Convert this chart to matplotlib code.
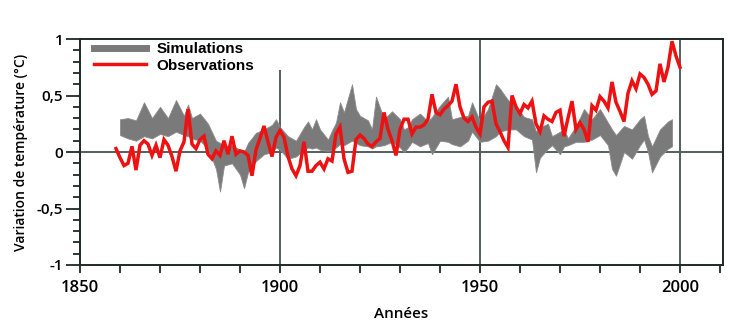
import matplotlib
matplotlib.use("Agg")
import matplotlib.pyplot as plt
from matplotlib.lines import Line2D
import numpy as np

# ---------------- data ----------------
obs_years = list(range(1859, 2001))
obs_values = [
    0.03, -0.05, -0.12, -0.10, 0.05, -0.16, 0.06, 0.10, 0.07, -0.03,   # 1859-1868
    0.06, -0.05, 0.11, 0.06, -0.04, -0.17, 0.01, 0.09, 0.38, 0.07,     # 1869-1878
    0.03, 0.11, 0.14, -0.02, -0.06, 0.01, -0.03, 0.10, -0.02, 0.14,    # 1879-1888
    -0.02, 0.01, 0.00, -0.03, -0.21, 0.02, 0.12, 0.23, 0.09, -0.04,    # 1889-1898
    0.13, 0.19, 0.13, -0.04, -0.15, -0.21, -0.12, 0.09, -0.17, -0.17,  # 1899-1908
    -0.12, -0.09, -0.15, -0.06, -0.08, 0.16, 0.22, -0.06, -0.18, -0.17,# 1909-1918
    0.11, 0.15, 0.12, 0.07, 0.05, 0.09, 0.12, 0.35, 0.20, 0.10,        # 1919-1928
    -0.03, 0.20, 0.29, 0.29, 0.16, 0.22, 0.22, 0.24, 0.29, 0.51,       # 1929-1938
    0.35, 0.33, 0.38, 0.41, 0.45, 0.60, 0.40, 0.30, 0.27, 0.31,        # 1939-1948
    0.22, 0.16, 0.40, 0.44, 0.45, 0.25, 0.18, 0.10, 0.04, 0.50,        # 1949-1958
    0.40, 0.34, 0.42, 0.39, 0.45, 0.25, 0.18, 0.32, 0.29, 0.27,        # 1959-1968
    0.35, 0.37, 0.14, 0.30, 0.45, 0.20, 0.26, 0.20, 0.09, 0.41,        # 1969-1978
    0.37, 0.49, 0.45, 0.39, 0.62, 0.44, 0.36, 0.27, 0.52, 0.63,        # 1979-1988
    0.56, 0.69, 0.66, 0.60, 0.51, 0.54, 0.78, 0.62, 0.75, 0.98,        # 1989-1998
    0.85, 0.75,                                                         # 1999-2000
]

sim_years = [1860, 1862, 1864, 1866, 1868, 1870, 1872, 1874, 1876, 1877, 1878,
             1880, 1882, 1884, 1885, 1886, 1888, 1890, 1891, 1892, 1894, 1896,
             1898, 1899, 1900, 1902, 1904, 1906, 1907, 1908, 1909, 1910, 1912,
             1913, 1914, 1915, 1916, 1918, 1919, 1920, 1922, 1923, 1924, 1926,
             1928, 1930, 1931, 1932, 1933, 1935, 1937, 1938, 1940, 1942, 1943,
             1945, 1947, 1948, 1950, 1952, 1954, 1955, 1957, 1959, 1961, 1963,
             1964, 1965, 1967, 1968, 1970, 1971, 1972, 1974, 1976, 1978, 1980,
             1982, 1983, 1984, 1986, 1988, 1990, 1991, 1992, 1993, 1995, 1997,
             1998]
sim_upper = [0.29, 0.30, 0.28, 0.44, 0.30, 0.40, 0.30, 0.46, 0.32, 0.42, 0.30,
             0.34, 0.25, 0.10, 0.08, 0.05, 0.06, 0.02, 0.00, 0.08, 0.17, 0.20,
             0.24, 0.29, 0.22, 0.14, 0.10, 0.22, 0.27, 0.20, 0.29, 0.20, 0.11,
             0.19, 0.26, 0.44, 0.35, 0.60, 0.38, 0.32, 0.28, 0.20, 0.49, 0.29,
             0.36, 0.29, 0.20, 0.22, 0.29, 0.34, 0.27, 0.31, 0.41, 0.49, 0.29,
             0.31, 0.32, 0.44, 0.27, 0.38, 0.60, 0.56, 0.46, 0.41, 0.31, 0.29,
             0.18, 0.22, 0.25, 0.14, 0.18, 0.20, 0.12, 0.23, 0.38, 0.29, 0.38,
             0.26, 0.20, 0.15, 0.23, 0.20, 0.29, 0.32, 0.14, 0.05, 0.20, 0.27,
             0.29]
sim_lower = [0.15, 0.12, 0.10, 0.14, 0.12, 0.16, 0.14, 0.18, 0.15, 0.14, 0.12,
             0.10, 0.03, -0.15, -0.35, -0.12, -0.10, -0.20, -0.32, -0.18, -0.08, -0.02,
             0.00, 0.04, 0.02, -0.06, -0.04, 0.02, 0.04, 0.03, 0.04, 0.02, 0.01,
             0.02, 0.04, 0.07, 0.06, 0.10, 0.08, 0.06, 0.05, 0.03, 0.05, 0.06,
             0.09, 0.04, 0.00, 0.04, 0.09, 0.05, 0.08, -0.02, 0.10, 0.09, 0.07,
             0.05, 0.10, 0.18, 0.09, 0.10, 0.14, 0.18, 0.20, 0.20, 0.14, 0.11,
             -0.18, -0.05, 0.03, 0.06, -0.02, 0.05, 0.06, 0.09, 0.09, 0.11, 0.15,
             0.06, -0.15, -0.21, 0.00, -0.06, 0.06, 0.11, 0.00, -0.18, -0.04, 0.03,
             0.05]

x_tick_labels = ["1850", "1900", "1950", "2000"]
x_label_years = [1850, 1900, 1950, 2000]
y_tick_values = [-1, -0.5, 0, 0.5, 1]
y_tick_labels = ["-1", "-0,5", "0", "0,5", "1"]
legend_labels = ["Simulations", "Observations"]

# ---------------- figure ----------------
W, H = 735, 328
fig = plt.figure(figsize=(W / 100, H / 100), dpi=100)
ax = fig.add_axes([80 / W, 1 - 265 / H, (723 - 80) / W, (265 - 39) / H])

spine_col = "#1e2a26"
grid_col = "#56605b"
sim_col = "#7a7a7a"
obs_col = "#ee1111"
tick_font = dict(family=["Open Sans", "DejaVu Sans"], weight="semibold")

ax.set_xlim(1850, 2010.75)
ax.set_ylim(-1, 1)

# reference lines
ax.axhline(0, color=grid_col, lw=1.4, zorder=1)
ax.vlines(1900, -1, 0.73, color=grid_col, lw=1.4, zorder=1)
ax.vlines([1950, 2000], -1, 1, color=grid_col, lw=1.4, zorder=1)

# simulations band
ax.fill_between(sim_years, sim_lower, sim_upper, color=sim_col, lw=0.6,
                edgecolor="#8c8c8c", zorder=2)
# observations
ax.plot(obs_years, obs_values, color=obs_col, lw=2.5, solid_joinstyle="miter",
        zorder=3)

# spines
for s in ax.spines.values():
    s.set_color(spine_col)
    s.set_linewidth(1.4)

# ticks
ax.set_yticks(y_tick_values)
ax.set_yticklabels(y_tick_labels, fontsize=11, **tick_font)
ax.set_yticks(np.arange(-1, 1.01, 0.1), minor=True)
ax.tick_params(axis="y", which="major", direction="out", length=10, width=1.3,
               color=spine_col, pad=2)
ax.tick_params(axis="y", which="minor", direction="out", length=5, width=1.3,
               color=spine_col)

ax.set_xticks(np.arange(1850, 2011, 10))
ax.set_xticklabels([str(y) if y in x_label_years else "" for y in range(1850, 2011, 10)],
                   fontsize=12, **tick_font)
ax.tick_params(axis="x", which="major", direction="out", length=6, width=1.3,
               color=spine_col, pad=5)

ax.set_xlabel("Années", fontsize=11, family=["Open Sans", "DejaVu Sans"],
              weight="semibold", labelpad=8)
ax.set_ylabel("Variation de température (°C)", fontsize=10,
              family=["Open Sans", "DejaVu Sans"], weight="semibold", labelpad=6)

handles = [Line2D([], [], color=sim_col, lw=5),
           Line2D([], [], color=obs_col, lw=2.5)]
leg = ax.legend(handles, legend_labels, loc="upper left",
                bbox_to_anchor=(0.022, 0.985), frameon=False,
                handlelength=3.4, handletextpad=0.7, labelspacing=0.15,
                borderpad=0, borderaxespad=0,
                prop=dict(family=["Liberation Sans", "DejaVu Sans"],
                          weight="bold", size=11))

fig.savefig("out.png", dpi=100)
